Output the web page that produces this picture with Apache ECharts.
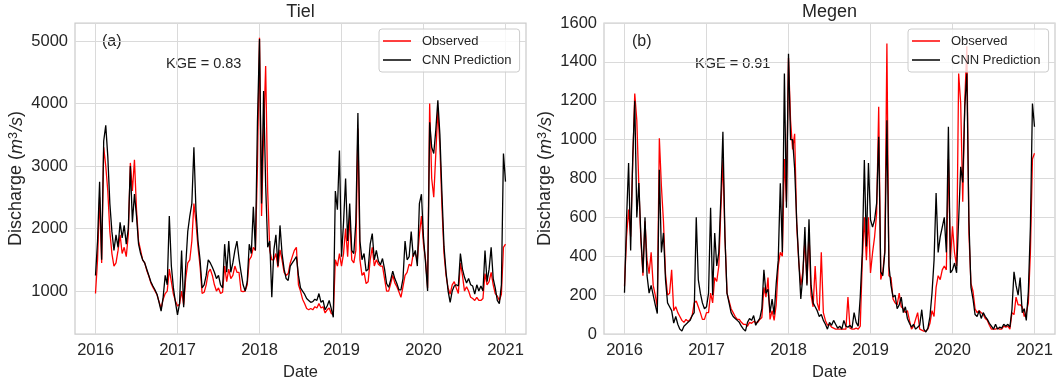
<!DOCTYPE html>
<html>
<head>
<meta charset="utf-8">
<script src="https://cdn.jsdelivr.net/npm/echarts@6/dist/echarts.min.js"></script>
<style>
  html, body { margin: 0; padding: 0; background: #fff; }
  #main { width: 1056px; height: 381px; }
</style>
</head>
<body>
<div id="main"></div>
<script>
// sample dates: every 0.025 year from 2016.0 to 2021.0
const years = [];
for (let i = 0; i <= 200; i++) years.push(+(2016 + i * 0.025).toFixed(3));

const yearTicks = [2016, 2017, 2018, 2019, 2020, 2021];
const tielTicks = [1000, 2000, 3000, 4000, 5000];

// Tiel, discharge m3/s
const tielObserved = [
  960, 1500, 2500, 1450, 3300, 3000, 2600, 1950, 1600, 1400, 1450, 1650, 1900, 1600, 1700, 1550, 1900, 3050, 2600, 3100,
  2300, 1800, 1650, 1500, 1450, 1330, 1240, 1130, 1060, 1000, 940, 830, 720, 870, 960, 1000, 1350, 1150, 950, 840,
  760, 790, 1000, 780, 1200, 1450, 1500, 1800, 2400, 2100, 1700, 1400, 960, 980, 1100, 1300, 1350, 1250, 1100, 1000,
  1050, 960, 980, 1400, 1150, 1350, 1200, 1250, 1400, 1300, 1300, 1000, 990, 1000, 1100, 1500, 1550, 1700, 1650, 3000,
  5050, 2200, 3500, 4600, 2600, 1650, 1500, 1500, 1600, 1380, 1660, 1500, 1300, 1250, 1280, 1450, 1550, 1650, 1700, 1100,
  1000, 870, 800, 720, 700, 720, 700, 750, 730, 800, 730, 750, 650, 700, 730, 640, 620, 1500, 1400, 1600,
  1400, 1600, 2000, 1550, 2200, 1500, 1450, 1650, 3600, 1500, 1250, 1300, 1120, 1150, 1500, 1700, 1400, 1500, 1430, 1400,
  1400, 1200, 1000, 1000, 1120, 1250, 1130, 1070, 990, 900, 1070, 1250, 1300, 1430, 1400, 1600, 1600, 1500, 1900, 2200,
  1750, 1500, 1050, 4000, 2800, 2500, 3200, 3900, 3300, 2350, 1600, 1250, 1050, 950, 1100, 1150, 1050, 960, 1450, 1250,
  1000, 1070, 1000, 900, 880, 850, 900, 850, 850, 880, 1280, 1100, 1150, 1300, 1100, 960, 920, 850, 950, 1700,
  1750
];
const tielPredicted = [
  1250, 1800, 2750, 1500, 3400, 3650, 3150, 2400, 1950, 1650, 1900, 1700, 2100, 1850, 2050, 1750, 2000, 3000, 2100, 2550,
  2200, 1750, 1600, 1500, 1450, 1350, 1250, 1150, 1080, 1020, 950, 820, 680, 900, 1250, 1100, 2200, 1400, 1050, 820,
  620, 800, 1650, 740, 1400, 1950, 2200, 2400, 3300, 2300, 1800, 1500, 1050, 1100, 1250, 1500, 1450, 1380, 1300, 1200,
  1250, 1100, 1050, 1750, 1300, 1800, 1300, 1450, 1650, 1800, 1520, 1300, 1100, 1000, 1150, 1750, 1600, 2350, 1650, 3700,
  5030, 2400, 4200, 2700, 1700, 1800, 900, 1650, 1900, 1400, 2050, 1600, 1350, 1200, 1170, 1400, 1450, 1500, 1550, 1250,
  1050, 1000, 950, 880, 850, 820, 830, 870, 850, 960, 820, 850, 700, 760, 850, 720, 580, 2600, 2300, 3250,
  1550, 2100, 2800, 1800, 2400, 1650, 1600, 2100, 3850, 1800, 1500, 1600, 1320, 1350, 1750, 1920, 1500, 1650, 1480, 1420,
  1520, 1350, 1120, 1060, 1180, 1320, 1200, 1120, 1020, 1020, 1200, 1800, 1500, 1550, 1950, 1550, 1650, 1400, 2400, 2550,
  1850, 1450, 1000, 3700, 3300, 3200, 3575, 4050, 3500, 2560, 1710, 1300, 1000, 820, 1000, 1080, 1100, 1080, 1600, 1350,
  1220, 1130, 1200, 1100, 1080, 950, 1100, 1000, 1080, 1000, 1650, 1150, 1350, 1700, 1200, 1050, 850, 800, 1100, 3200,
  2750
];

// Megen, discharge m3/s
const megenObserved = [
  246, 500, 640, 500, 880, 1237, 1100, 760, 480, 300, 580, 380, 310, 420, 250, 200, 140, 1007, 760, 580,
  310, 200, 210, 330, 120, 140, 110, 90, 70, 60, 75, 65, 75, 95, 160, 170, 140, 110, 75, 75,
  110, 110, 210, 160, 290, 270, 350, 640, 895, 500, 210, 170, 130, 110, 90, 75, 75, 60, 50, 50,
  40, 60, 55, 65, 60, 60, 75, 85, 240, 190, 290, 75, 120, 70, 150, 350, 420, 400, 900, 680,
  1420, 1100, 950, 1030, 560, 370, 250, 320, 480, 260, 520, 200, 140, 350, 160, 120, 420, 110, 70, 45,
  50, 35, 30, 25, 25, 25, 25, 25, 25, 190, 30, 25, 25, 30, 25, 40, 380, 600, 380, 600,
  314, 417, 500, 622, 1169, 280, 320, 430, 1494, 300, 290, 180, 160, 150, 210, 140, 130, 110, 120, 70,
  25, 40, 75, 110, 25, 20, 15, 15, 25, 55, 120, 90, 240, 300, 280, 330, 350, 330, 900, 383,
  554, 417, 349, 1340, 1186, 680, 1200, 1480, 520, 260, 220, 130, 110, 120, 110, 100, 80, 70, 45, 25,
  25, 25, 30, 25, 25, 40, 35, 40, 25, 110, 100, 190, 150, 150, 140, 90, 110, 160, 420, 900,
  930
];
const megenPredicted = [
  212, 590, 880, 430, 900, 1200, 600, 777, 500, 315, 600, 300, 210, 250, 200, 150, 105, 845, 420, 520,
  280, 160, 140, 120, 56, 90, 50, 25, 15, 40, 50, 60, 70, 95, 110, 600, 280, 210, 160, 130,
  140, 210, 650, 200, 520, 350, 420, 700, 1041, 500, 210, 160, 110, 90, 80, 70, 60, 40, 25, 15,
  60, 80, 70, 95, 45, 65, 80, 130, 330, 210, 230, 110, 180, 100, 260, 380, 775, 420, 1340, 650,
  1442, 1000, 1000, 850, 580, 380, 180, 300, 550, 250, 590, 250, 160, 140, 120, 90, 100, 70, 50, 25,
  60, 45, 70, 50, 30, 40, 25, 70, 40, 35, 45, 30, 110, 60, 40, 190, 420, 895, 450, 880,
  588, 550, 588, 673, 1015, 320, 300, 420, 1100, 350, 250, 190, 200, 130, 150, 190, 110, 140, 80, 55,
  35, 50, 25, 35, 45, 125, 25, 10, 30, 90, 210, 380, 725, 420, 500, 550, 600, 420, 1066, 315,
  330, 365, 315, 588, 860, 780, 1169, 1340, 588, 240, 180, 100, 90, 120, 80, 110, 90, 75, 55, 40,
  25, 50, 25, 35, 30, 50, 40, 50, 35, 126, 320, 250, 200, 290, 110, 130, 70, 220, 550, 1186,
  1066
];

const font = "'Liberation Sans', Arial, sans-serif";
const ink = '#262626';

function pairs(vals) {
  return years.map((t, i) => [t, vals[i]]);
}

function xAxisFor(idx) {
  return {
    type: 'value', gridIndex: idx, min: 2015.75, max: 2021.25,
    axisLine: { show: false },
    axisTick: { show: false, customValues: yearTicks },
    axisLabel: { customValues: yearTicks, fontSize: 16.5, color: ink, fontFamily: font, margin: 8,
      formatter: v => String(Math.round(v)) },
    splitLine: { show: true, lineStyle: { color: '#dadada', width: 1 } },
    name: 'Date', nameLocation: 'middle', nameGap: 25,
    nameTextStyle: { fontSize: 16.5, color: ink, fontFamily: font }
  };
}

const yName = '{n|Discharge (}{i|m}{s|3}{i|/s}{n|)}';
const yRich = {
  n: { fontSize: 18, color: ink, fontFamily: font },
  i: { fontSize: 18, color: ink, fontFamily: font, fontStyle: 'italic' },
  s: { fontSize: 12.5, color: ink, fontFamily: font, verticalAlign: 'top', padding: [0, 1, 6, 0] }
};

function seriesFor(name, vals, color, idx) {
  return {
    name: name, type: 'line', xAxisIndex: idx, yAxisIndex: idx,
    data: pairs(vals), showSymbol: false, symbol: 'none',
    lineStyle: { color: color, width: 1.3 }, itemStyle: { color: color },
    animation: false
  };
}

function legendFor(left) {
  return {
    data: ['Observed', 'CNN Prediction'], orient: 'vertical', left: left, top: 29,
    icon: 'rect', itemWidth: 28, itemHeight: 1.5, itemGap: 5,
    backgroundColor: 'rgba(255,255,255,0.8)', borderColor: '#cccccc', borderWidth: 1, borderRadius: 3,
    padding: [5, 8, 5, 4],
    textStyle: { fontSize: 13, color: ink, fontFamily: font, lineHeight: 14, padding: [0, 0, 0, 6] }
  };
}

function label(text, x, y, size, align) {
  return { type: 'text', x: x, y: y, style: { text: text, fontSize: size, fill: ink, fontFamily: font,
    textAlign: align || 'left', textVerticalAlign: 'middle' } };
}

const chart = echarts.init(document.getElementById('main'), null, { renderer: 'canvas' });
chart.setOption({
  backgroundColor: '#ffffff',
  animation: false,
  grid: [
    { left: 75, top: 23, width: 451, height: 311, show: true, borderColor: '#cccccc', borderWidth: 1.25,
      containLabel: false, outerBoundsMode: 'none' },
    { left: 604, top: 23, width: 451, height: 311, show: true, borderColor: '#cccccc', borderWidth: 1.25,
      containLabel: false, outerBoundsMode: 'none' }
  ],
  xAxis: [xAxisFor(0), xAxisFor(1)],
  yAxis: [
    {
      type: 'value', gridIndex: 0, min: 313, max: 5288,
      axisLine: { show: false },
      axisTick: { show: false, customValues: tielTicks },
      axisLabel: { customValues: tielTicks, fontSize: 16.5, color: ink, fontFamily: font, margin: 7,
        formatter: v => String(Math.round(v)) },
      splitLine: { show: true, lineStyle: { color: '#dadada', width: 1 } },
      name: yName, nameLocation: 'middle', nameGap: 49, nameRotate: 90,
      nameTextStyle: { rich: yRich }
    },
    {
      type: 'value', gridIndex: 1, min: 0, max: 1600, interval: 200,
      axisLine: { show: false },
      axisTick: { show: false },
      axisLabel: { fontSize: 16.5, color: ink, fontFamily: font, margin: 7,
        formatter: v => String(Math.round(v)) },
      splitLine: { show: true, lineStyle: { color: '#dadada', width: 1 } },
      name: yName, nameLocation: 'middle', nameGap: 49, nameRotate: 90,
      nameTextStyle: { rich: yRich }
    }
  ],
  legend: [legendFor(379), legendFor(908)],
  series: [
    seriesFor('Observed', tielObserved, '#ff0000', 0),
    seriesFor('CNN Prediction', tielPredicted, '#000000', 0),
    seriesFor('Observed', megenObserved, '#ff0000', 1),
    seriesFor('CNN Prediction', megenPredicted, '#000000', 1)
  ],
  graphic: [
    label('Tiel', 300.5, 12, 18, 'center'),
    label('Megen', 829.5, 12, 18, 'center'),
    label('(a)', 102, 42, 16),
    label('KGE = 0.83', 166, 64, 14.5),
    label('(b)', 632, 42, 16),
    label('KGE = 0.91', 695, 64, 14.5)
  ]
});
</script>
</body>
</html>
